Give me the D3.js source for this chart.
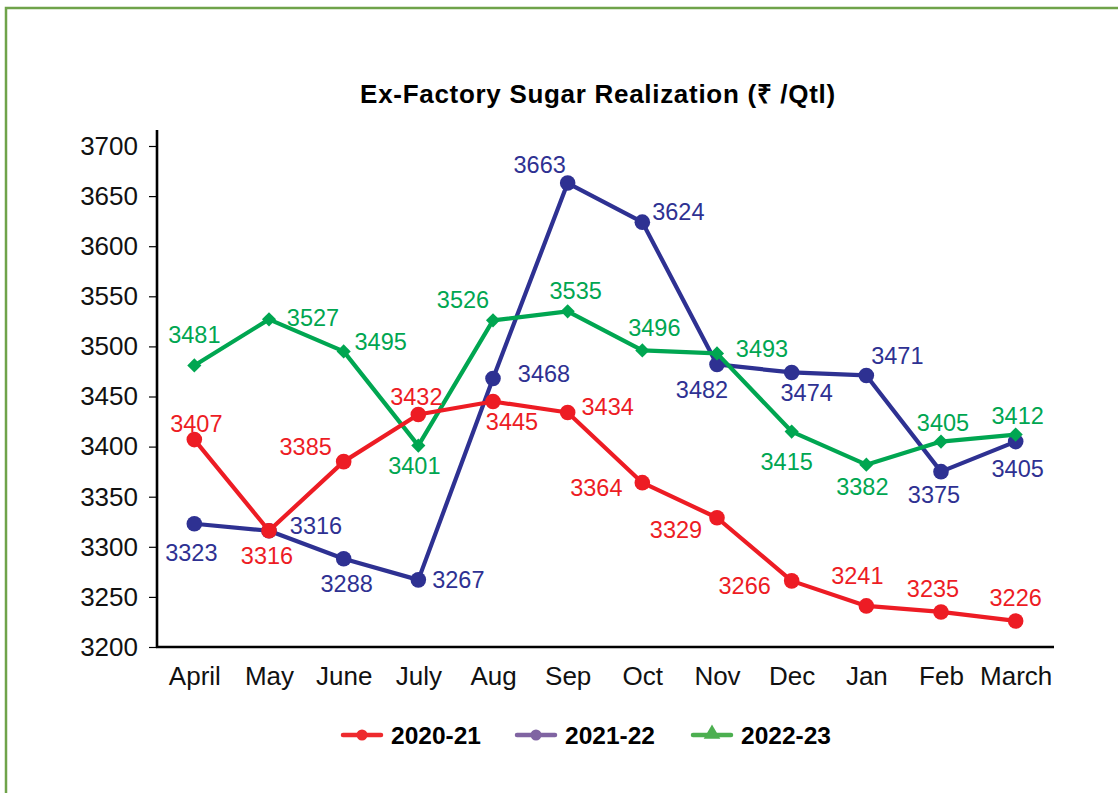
<!DOCTYPE html>
<html>
<head>
<meta charset="utf-8">
<script src="https://cdn.jsdelivr.net/npm/d3@7"></script>
<style>
  html, body { margin: 0; padding: 0; background: #fff; }
  svg { display: block; font-family: "Liberation Sans", Arial, sans-serif; }
</style>
</head>
<body>
<svg id="chart" width="1118" height="793"></svg>
<script>
// ---- data ----
const months = ["April","May","June","July","Aug","Sep","Oct","Nov","Dec","Jan","Feb","March"];
const s2020_21 = [3407,3316,3385,3432,3445,3434,3364,3329,3266,3241,3235,3226];
const s2021_22 = [3323,3316,3288,3267,3468,3663,3624,3482,3474,3471,3375,3405];
const s2022_23 = [3481,3527,3495,3401,3526,3535,3496,3493,3415,3382,3405,3412];
const yTicks = [3200,3250,3300,3350,3400,3450,3500,3550,3600,3650,3700];
const seriesNames = ["2020-21","2021-22","2022-23"];
const titleText = "Ex-Factory Sugar Realization (\u20B9 /Qtl)";

// label offsets (text centre relative to point)
const offRed   = [[2,-16],[-2,25],[-38,-15],[-2,-18],[19,20],[40,-6],[-46,5],[-41,12],[-47,5],[-9,-30],[-8,-23],[0,-23]];
const offBlue  = [[-3,29],[47,-5],[3,25],[40,0],[51,-5],[-28,-19],[36,-11],[-15,25],[15,20],[31,-20],[-7,23],[2,27]];
const offGreen = [[0,-31],[44,-2],[37,-10],[-4,20],[-30,-21],[8,-21],[12,-23],[45,-5],[-5,30],[-4,22],[2,-19],[2,-19]];

const RED = "#ED1C24", BLUE = "#2E3192", GREEN = "#00A651";

(function () {
const svg = d3.select("#chart");

// frame
svg.append("rect").attr("x", 6).attr("y", 8).attr("width", 1140).attr("height", 820)
  .attr("fill", "none").attr("stroke", "#6FA34A").attr("stroke-width", 2.5);

const pLeft = 157, pRight = 1053, pTop = 146, pBottom = 647;
const x = d3.scalePoint().domain(months).range([pLeft, pRight]).padding(0.5);
const y = d3.scaleLinear().domain([3200, 3700]).range([pBottom, pTop]);

// title
svg.append("text").attr("x", 598).attr("y", 103).attr("text-anchor", "middle")
  .attr("font-size", 26).attr("letter-spacing", 0.7).attr("font-weight", "bold")
  .attr("fill", "#000").text(titleText);

// y axis
const yAxis = svg.append("g").attr("transform", `translate(${pLeft},0)`)
  .call(d3.axisLeft(y).tickValues(yTicks).tickSize(8).tickPadding(11).tickFormat(d3.format("d")));
yAxis.select(".domain").remove();
yAxis.selectAll(".tick line").attr("stroke", "#000").attr("stroke-width", 1.2);
yAxis.selectAll(".tick text").attr("font-size", 26).attr("fill", "#111")
  .attr("font-family", "Liberation Sans, Arial, sans-serif");
svg.append("line").attr("x1", pLeft).attr("x2", pLeft).attr("y1", 130).attr("y2", pBottom + 1)
  .attr("stroke", "#000").attr("stroke-width", 2.6);

// x axis
const xAxis = svg.append("g").attr("transform", `translate(0,${pBottom})`)
  .call(d3.axisBottom(x).tickSize(0).tickPadding(20));
xAxis.select(".domain").remove();
xAxis.selectAll(".tick text").attr("font-size", 26).attr("fill", "#111")
  .attr("font-family", "Liberation Sans, Arial, sans-serif").attr("dy", "0.71em");
svg.append("line").attr("x1", pLeft - 1).attr("x2", 1054).attr("y1", pBottom).attr("y2", pBottom)
  .attr("stroke", "#000").attr("stroke-width", 2.6);

const line = d3.line().x((d, i) => x(months[i])).y(d => y(d));

function drawSeries(vals, color, marker) {
  const g = svg.append("g");
  g.append("path").datum(vals).attr("d", line).attr("fill", "none")
    .attr("stroke", color).attr("stroke-width", 4.2).attr("stroke-linejoin", "round");
  if (marker === "circle") {
    g.selectAll("circle").data(vals).join("circle")
      .attr("cx", (d, i) => x(months[i])).attr("cy", d => y(d)).attr("r", 7.8).attr("fill", color);
  } else {
    g.selectAll("path.m").data(vals).join("path").attr("class", "m")
      .attr("d", d3.symbol().type(d3.symbolSquare).size(100))
      .attr("transform", (d, i) => `translate(${x(months[i])},${y(d)}) rotate(45)`)
      .attr("fill", color);
  }
}
function drawLabels(vals, color, offs) {
  svg.append("g").selectAll("text").data(vals).join("text")
    .attr("x", (d, i) => x(months[i]) + offs[i][0])
    .attr("y", (d, i) => y(d) + offs[i][1])
    .attr("dy", "0.36em").attr("text-anchor", "middle")
    .attr("font-size", 23.5).attr("fill", color).text(d => d);
}

drawSeries(s2021_22, BLUE, "circle");
drawSeries(s2022_23, GREEN, "diamond");
drawSeries(s2020_21, RED, "circle");
drawLabels(s2020_21, RED, offRed);
drawLabels(s2021_22, BLUE, offBlue);
drawLabels(s2022_23, GREEN, offGreen);

// legend
const legend = [
  {name: seriesNames[0], color: "#EE2A2E", marker: "circle", x0: 343},
  {name: seriesNames[1], color: "#8064A2", marker: "circle", x0: 517},
  {name: seriesNames[2], color: "#4CAF50", marker: "triangle", x0: 693}
];
const ly = 735;
legend.forEach(l => {
  const g = svg.append("g");
  g.append("line").attr("x1", l.x0).attr("x2", l.x0 + 38).attr("y1", ly).attr("y2", ly)
    .attr("stroke", l.color).attr("stroke-width", 4.5).attr("stroke-linecap", "round");
  if (l.marker === "circle") {
    g.append("circle").attr("cx", l.x0 + 19).attr("cy", ly).attr("r", 5.5).attr("fill", l.color);
  } else {
    g.append("path").attr("d", d3.symbol().type(d3.symbolTriangle).size(120))
      .attr("transform", `translate(${l.x0 + 19},${ly - 1})`).attr("fill", l.color);
  }
  g.append("text").attr("x", l.x0 + 48).attr("y", ly).attr("dy", "0.36em")
    .attr("font-size", 24.5).attr("font-weight", "bold").attr("fill", "#000").text(l.name);
});
})();
</script>
</body>
</html>
